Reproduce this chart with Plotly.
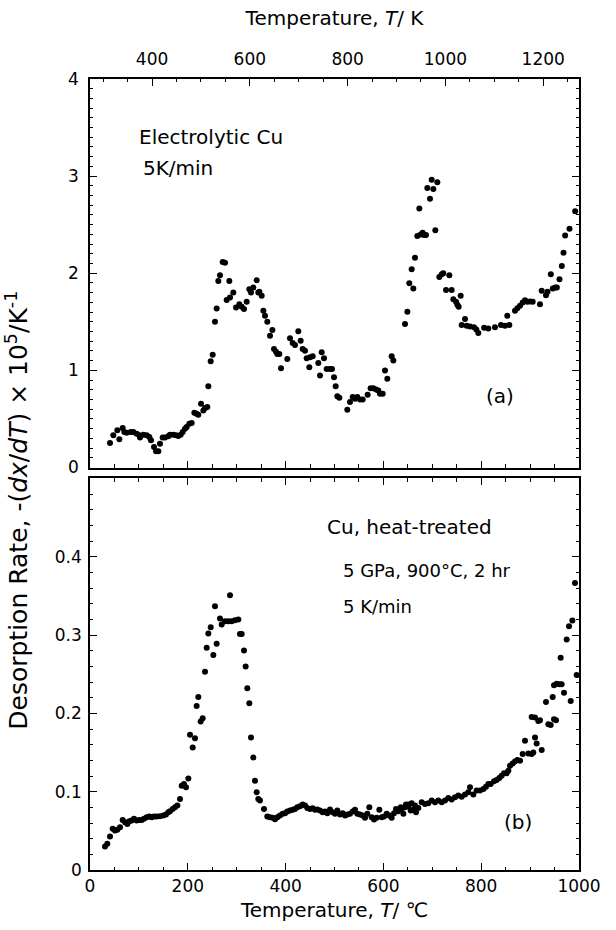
import plotly.graph_objects as go

# ---------------- data: panel (a) Electrolytic Cu ----------------
a_T = [40.9, 47.7, 55.9, 60.0, 66.8, 70.2, 75.0, 83.2, 88.6, 95.4, 100.9, 102.2, 109.1, 115.9,
       121.3, 124.7, 130.9, 135.0, 139.7, 143.1, 148.6, 153.4, 160.2, 163.6, 170.4, 175.9, 180.6,
       185.4, 189.5, 194.3, 197.7, 203.1, 207.9, 213.4, 218.1, 221.5, 227.0, 231.8, 235.2, 239.9,
       242.0, 246.8, 250.9, 255.6, 259.0, 262.4, 265.8, 271.3, 276.1, 279.5, 284.9, 286.3, 293.1,
       298.6, 305.4, 310.2, 314.9, 320.4, 325.8, 329.2, 334.0, 340.8, 344.2,
       346.3, 351.1, 354.5, 357.9, 362.6, 368.1, 372.9, 376.3, 380.4, 383.1, 387.2, 390.6, 403.5,
       409.0, 414.5, 419.2, 426.0, 430.8, 434.9, 439.7, 443.1, 448.5, 449.9, 455.4, 466.9, 470.4,
       473.8, 478.5, 484.0, 490.8, 494.9, 499.0, 502.4, 505.8, 509.9, 526.2, 531.7, 537.2, 541.9,
       546.7, 552.1, 557.6, 567.8, 573.9, 579.4, 584.9, 589.6, 593.0, 598.5, 603.3, 608.0, 616.9,
       620.3, 644.2, 649.0, 653.0, 657.8, 661.2, 664.6, 669.4, 673.5, 676.2, 680.3, 683.0, 687.1,
       689.8, 695.3, 698.7, 702.1, 706.2, 710.3, 714.4, 719.3, 722.5, 728.0, 734.8, 739.6, 743.0,
       748.5, 751.2, 753.9, 758.0, 760.1, 766.9, 770.3, 777.1, 785.3, 790.0, 794.1, 806.0, 814.6,
       828.2, 840.5, 848.7, 853.4, 857.5, 869.1, 873.9, 879.4, 884.8, 889.6, 894.3, 899.8, 905.3,
       920.2, 923.7, 932.5, 935.6, 942.4, 946.5, 951.3, 954.7, 960.1, 964.9, 968.3, 971.7, 980.6,
       992.2]
a_rate = [0.253, 0.332, 0.383, 0.291, 0.407, 0.366, 0.359, 0.366, 0.366, 0.349, 0.332, 0.308, 0.338,
          0.332, 0.315, 0.280, 0.212, 0.168, 0.168, 0.246, 0.308, 0.308, 0.321, 0.338, 0.338, 0.332,
          0.325, 0.338, 0.366, 0.400, 0.417, 0.451, 0.458, 0.564, 0.554, 0.544, 0.656, 0.588, 0.612,
          0.622, 0.838, 1.094, 1.162, 1.501, 1.638, 1.921, 1.979, 2.116, 2.109, 1.726, 1.921, 1.750,
          1.802, 1.648, 1.682, 1.655, 1.631, 1.706, 1.836, 1.802, 1.853, 1.928, 1.802,
          1.809, 1.768, 1.614, 1.562, 1.501, 1.357, 1.415, 1.221, 1.193, 1.169, 1.169, 1.022, 1.118,
          1.330, 1.282, 1.262, 1.402, 1.306, 1.221, 1.203, 1.125, 1.032, 1.135, 1.145, 1.077, 0.947,
          1.186, 1.125, 1.015, 1.015, 1.015, 0.930, 0.838, 0.735, 0.718, 0.595, 0.674, 0.725, 0.708,
          0.725, 0.701, 0.701, 0.749, 0.817, 0.817, 0.803, 0.793, 0.759, 0.759, 0.998, 0.913, 1.145,
          1.101, 1.477, 1.603, 1.897, 2.041, 1.843, 2.161, 2.383, 2.667, 2.400, 2.417, 2.393, 2.393,
          2.879, 2.766, 2.964, 2.868, 2.444, 2.937, 1.962, 1.990, 2.000, 1.829, 1.979, 1.829, 1.733,
          1.706, 1.675, 1.655, 1.768, 1.467, 1.528, 1.460, 1.453, 1.443, 1.420, 1.385, 1.440, 1.432,
          1.443, 1.467, 1.460, 1.562, 1.467, 1.614, 1.641, 1.665, 1.699, 1.723, 1.706, 1.709, 1.706,
          1.682, 1.819, 1.774, 1.809, 1.990, 1.843, 1.853, 1.853, 1.938, 2.075, 2.212, 2.390, 2.458,
          2.639]

# ---------------- data: panel (b) Cu heat-treated ----------------
b_T = [30.7, 35.4, 40.9, 46.4, 51.1, 55.9, 61.3, 66.8, 71.6, 76.3, 80.4, 85.2, 90.0, 95.4, 100.9,
       105.7, 110.4, 115.9, 121.3, 126.1, 130.9, 136.3, 143.1, 150.0, 155.4, 160.2, 163.6, 169.1,
       173.8, 178.6, 184.0, 187.5, 192.2, 196.3, 201.1, 204.5, 210.0, 214.7, 218.1, 221.5, 226.3,
       230.4, 235.2, 238.6, 242.0, 246.8, 252.2, 255.6, 259.0, 265.8, 269.3, 276.1, 282.9, 286.3,
       289.7, 296.5, 303.3, 306.7, 310.2, 314.9, 318.3, 321.7, 325.8, 329.2, 334.0, 337.4, 340.8,
       344.2, 347.6, 355.8,
       362.6, 368.1, 373.6, 378.3, 383.1, 388.5, 394.0, 398.8, 403.5, 409.0, 414.5, 419.2, 424.0,
       429.5, 434.9, 439.7, 444.4, 449.9, 455.4, 460.1, 464.9, 470.4, 475.8, 480.6, 485.3, 490.8,
       496.3, 501.0, 505.8, 511.3, 516.7, 521.5, 526.2, 531.7, 537.2, 541.9, 546.7, 552.1, 557.6,
       562.4, 567.1, 571.2, 576.0, 580.8, 586.2, 591.7, 596.5, 601.2, 606.7, 612.1, 616.9, 621.7,
       625.8, 630.5, 635.3, 640.8, 646.2, 651.0, 655.8, 661.2, 666.7, 671.4,
       637.4, 644.2, 651.0, 657.8, 664.6, 678.3, 685.1, 691.9, 698.7, 705.5, 712.3, 719.2, 726.0,
       732.8, 739.6, 746.4, 753.2, 760.1, 766.9, 773.7, 777.1, 783.9, 790.7, 797.5, 804.4, 809.8,
       814.6, 819.4, 826.2, 831.6, 837.1, 841.8, 846.6, 852.1, 855.5, 858.9, 864.3, 869.1, 873.9,
       879.4, 884.8, 889.6, 896.4, 903.2, 906.6, 910.0, 913.4, 923.7, 903.2, 910.0, 916.8, 920.2,
       932.5, 937.3, 942.1, 946.2, 948.9, 953.0, 948.9, 954.3, 959.8, 964.5, 969.3, 962.5, 974.8,
       979.6, 986.4, 983.0, 995.2, 991.8]
b_rate = [0.0301, 0.0335, 0.0428, 0.0526, 0.0505, 0.0513, 0.0547, 0.0640, 0.0611, 0.0589, 0.0623,
          0.0632, 0.0653, 0.0632, 0.0640, 0.0640, 0.0653, 0.0674, 0.0683, 0.0674, 0.0683, 0.0683,
          0.0687, 0.0696, 0.0708, 0.0738, 0.0751, 0.0780, 0.0802, 0.0823, 0.0908, 0.1077, 0.1098,
          0.1056, 0.1170, 0.1726, 0.1565, 0.1684, 0.2095, 0.2209, 0.1896, 0.1938, 0.2532, 0.2837,
          0.3020, 0.3100, 0.2744, 0.3367, 0.2888, 0.3210, 0.3134, 0.3176, 0.3176, 0.3507, 0.3176,
          0.3189, 0.3198, 0.3015, 0.3015, 0.2803, 0.2600, 0.2320, 0.2129, 0.1692, 0.1438, 0.1141,
          0.0992, 0.0908, 0.0886, 0.0780,
          0.0683, 0.0674, 0.0666, 0.0649, 0.0674, 0.0696, 0.0717, 0.0725, 0.0746, 0.0759, 0.0768,
          0.0780, 0.0802, 0.0814, 0.0835, 0.0823, 0.0793, 0.0780, 0.0789, 0.0768, 0.0772, 0.0759,
          0.0738, 0.0746, 0.0725, 0.0772, 0.0738, 0.0717, 0.0759, 0.0708, 0.0725, 0.0696, 0.0708,
          0.0717, 0.0746, 0.0768, 0.0717, 0.0708, 0.0696, 0.0666, 0.0717, 0.0802, 0.0674, 0.0645,
          0.0666, 0.0768, 0.0674, 0.0683, 0.0717, 0.0696, 0.0666, 0.0725, 0.0780, 0.0751, 0.0802,
          0.0717, 0.0835, 0.0810, 0.0759, 0.0768, 0.0738, 0.0793,
          0.0780, 0.0802, 0.0835, 0.0852, 0.0823, 0.0865, 0.0844, 0.0852, 0.0886, 0.0865, 0.0886,
          0.0865, 0.0886, 0.0920, 0.0899, 0.0929, 0.0950, 0.0937, 0.0963, 0.0992, 0.1056, 0.0963,
          0.1014, 0.1014, 0.1035, 0.1064, 0.1098, 0.1098, 0.1132, 0.1149, 0.1175, 0.1204, 0.1234,
          0.1234, 0.1268, 0.1332, 0.1361, 0.1387, 0.1404, 0.1395, 0.1480, 0.1650, 0.1489, 0.1480,
          0.1501, 0.1692, 0.1616, 0.1531, 0.1955, 0.1947, 0.1904, 0.1913, 0.2146, 0.1862, 0.1853,
          0.2209, 0.1925, 0.1913, 0.2358, 0.2379, 0.2371, 0.2371, 0.2265, 0.2710, 0.2943, 0.3113,
          0.3185, 0.2159, 0.2489, 0.3664]

# ---------------- axis ticks ----------------
c_ticks = [0, 200, 400, 600, 800, 1000]
k_ticks = [400, 600, 800, 1000, 1200]
a_yticks = [0, 1, 2, 3, 4]
b_yticks = [0, 0.1, 0.2, 0.3, 0.4]
b_ytext = ["0", "0.1", "0.2", "0.3", "0.4"]

FONT = "DejaVu Sans"
marker = dict(color="black", size=6)

fig = go.Figure()
fig.add_trace(go.Scatter(x=a_T, y=a_rate, mode="markers", marker=marker,
                         xaxis="x2", yaxis="y2", showlegend=False))
fig.add_trace(go.Scatter(x=b_T, y=b_rate, mode="markers", marker=marker,
                         xaxis="x", yaxis="y", showlegend=False))
# invisible trace to activate Kelvin axis
fig.add_trace(go.Scatter(x=[k_ticks[0]], y=[None], mode="markers", xaxis="x3", yaxis="y2",
                         showlegend=False, hoverinfo="skip"))

axis_common = dict(showline=True, linecolor="black", linewidth=1.5, ticks="inside",
                   ticklen=7, tickwidth=1.2, tickcolor="black", showgrid=False, zeroline=False,
                   tickfont=dict(family=FONT, size=17, color="black"))
minor_common = dict(ticks="inside", ticklen=3.5, tickwidth=1, tickcolor="black", showgrid=False)

fig.update_layout(
    width=616, height=930,
    margin=dict(l=90, r=37, t=79, b=57),
    paper_bgcolor="white", plot_bgcolor="white",
    font=dict(family=FONT, color="black"),
    xaxis=dict(domain=[0, 1], anchor="y", range=[0, 1000], tickvals=c_ticks, mirror="ticks",
               minor=dict(dtick=50, **minor_common),
               title=dict(text="Temperature, <i>T</i>/ \u2103", font=dict(family=FONT, size=20),
                          standoff=8),
               **axis_common),
    yaxis=dict(domain=[0, 0.495], anchor="x", range=[0, 0.5], tickvals=b_yticks, ticktext=b_ytext,
               mirror="ticks", minor=dict(dtick=0.02, **minor_common), ticklabelstandoff=3,
               **axis_common),
    xaxis2=dict(domain=[0, 1], anchor="y2", range=[0, 1000], tickvals=c_ticks,
                showticklabels=False, minor=dict(dtick=50, **minor_common), **axis_common),
    yaxis2=dict(domain=[0.5088, 1], anchor="x2", range=[0, 4], tickvals=a_yticks,
                mirror="ticks", minor=dict(dtick=0.1, **minor_common), ticklabelstandoff=6,
                **axis_common),
    xaxis3=dict(overlaying="x2", anchor="y2", side="top", range=[273.15, 1273.15],
                tickvals=k_ticks, minor=dict(dtick=50, **minor_common), ticklabelstandoff=5,
                title=dict(text="Temperature, <i>T</i>/ K", font=dict(family=FONT, size=20),
                           standoff=18),
                **axis_common),
)

ann_font = dict(family=FONT, size=20, color="black")
small_font = dict(family=FONT, size=18, color="black")
annotations = [
    dict(text="Electrolytic Cu", x=96, y=3.40, xref="x2", yref="y2", xanchor="left",
         yanchor="middle", showarrow=False, font=ann_font),
    dict(text="5K/min", x=104, y=3.08, xref="x2", yref="y2", xanchor="left",
         yanchor="middle", showarrow=False, font=ann_font),
    dict(text="(a)", x=838, y=0.74, xref="x2", yref="y2", xanchor="center",
         yanchor="middle", showarrow=False, font=ann_font),
    dict(text="Cu, heat-treated", x=480, y=0.4385, xref="x", yref="y", xanchor="left",
         yanchor="middle", showarrow=False, font=ann_font),
    dict(text="5 GPa, 900\u00b0C, 2 hr", x=513, y=0.382, xref="x", yref="y", xanchor="left",
         yanchor="middle", showarrow=False, font=small_font),
    dict(text="5 K/min", x=513, y=0.337, xref="x", yref="y", xanchor="left",
         yanchor="middle", showarrow=False, font=small_font),
    dict(text="(b)", x=876, y=0.061, xref="x", yref="y", xanchor="center",
         yanchor="middle", showarrow=False, font=ann_font),
    dict(text="Desorption Rate, -(<i>dx</i>/<i>dT</i>) \u00d7 10<sup>5</sup>/K<sup>-1</sup>",
         x=-0.150, y=0.455, xref="paper", yref="paper", xanchor="center", yanchor="middle",
         textangle=-90, showarrow=False, font=dict(family=FONT, size=25, color="black")),
]
fig.update_layout(annotations=annotations)

fig.write_html("out.html")
